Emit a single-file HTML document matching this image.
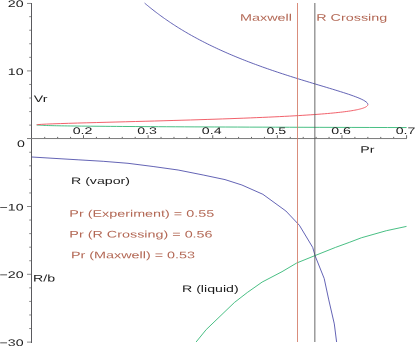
<!DOCTYPE html>
<html><head><meta charset="utf-8"><style>
html,body{margin:0;padding:0;background:#fff;}
svg{display:block;}
text{font-family:"Liberation Sans",sans-serif;font-size:8.7px;}
.t{opacity:0.999;text-rendering:geometricPrecision;}
</style></head><body>
<svg width="415" height="346" viewBox="0 0 415 346">
<rect width="415" height="346" fill="#fff"/>
<g stroke="#666" stroke-width="1" fill="none">
<line x1="31.5" x2="31.5" y1="3" y2="343" stroke="#5a5a5e"/>
<line x1="27" x2="407" y1="138.55" y2="138.55" stroke="#7a7a7a"/>
<line x1="27" x2="31" y1="342.10" y2="342.10" stroke="#8a8a8a"/>
<line x1="29.2" x2="31" y1="328.54" y2="328.54" stroke="#8a8a8a"/>
<line x1="29.2" x2="31" y1="314.98" y2="314.98" stroke="#8a8a8a"/>
<line x1="29.2" x2="31" y1="301.42" y2="301.42" stroke="#8a8a8a"/>
<line x1="29.2" x2="31" y1="287.86" y2="287.86" stroke="#8a8a8a"/>
<line x1="27" x2="31" y1="274.30" y2="274.30" stroke="#8a8a8a"/>
<line x1="29.2" x2="31" y1="260.74" y2="260.74" stroke="#8a8a8a"/>
<line x1="29.2" x2="31" y1="247.18" y2="247.18" stroke="#8a8a8a"/>
<line x1="29.2" x2="31" y1="233.62" y2="233.62" stroke="#8a8a8a"/>
<line x1="29.2" x2="31" y1="220.06" y2="220.06" stroke="#8a8a8a"/>
<line x1="27" x2="31" y1="206.50" y2="206.50" stroke="#8a8a8a"/>
<line x1="29.2" x2="31" y1="192.94" y2="192.94" stroke="#8a8a8a"/>
<line x1="29.2" x2="31" y1="179.38" y2="179.38" stroke="#8a8a8a"/>
<line x1="29.2" x2="31" y1="165.82" y2="165.82" stroke="#8a8a8a"/>
<line x1="29.2" x2="31" y1="152.26" y2="152.26" stroke="#8a8a8a"/>
<line x1="29.2" x2="31" y1="125.14" y2="125.14" stroke="#8a8a8a"/>
<line x1="29.2" x2="31" y1="111.58" y2="111.58" stroke="#8a8a8a"/>
<line x1="29.2" x2="31" y1="98.02" y2="98.02" stroke="#8a8a8a"/>
<line x1="29.2" x2="31" y1="84.46" y2="84.46" stroke="#8a8a8a"/>
<line x1="27" x2="31" y1="70.90" y2="70.90" stroke="#8a8a8a"/>
<line x1="29.2" x2="31" y1="57.34" y2="57.34" stroke="#8a8a8a"/>
<line x1="29.2" x2="31" y1="43.78" y2="43.78" stroke="#8a8a8a"/>
<line x1="29.2" x2="31" y1="30.22" y2="30.22" stroke="#8a8a8a"/>
<line x1="29.2" x2="31" y1="16.66" y2="16.66" stroke="#8a8a8a"/>
<line x1="27" x2="31" y1="3.45" y2="3.45" stroke="#8a8a8a"/>
<line x1="44.73" x2="44.73" y1="136.9" y2="138"/>
<line x1="57.65" x2="57.65" y1="136.9" y2="138"/>
<line x1="70.58" x2="70.58" y1="136.9" y2="138"/>
<line x1="83.50" x2="83.50" y1="135.2" y2="138"/>
<line x1="96.42" x2="96.42" y1="136.9" y2="138"/>
<line x1="109.35" x2="109.35" y1="136.9" y2="138"/>
<line x1="122.27" x2="122.27" y1="136.9" y2="138"/>
<line x1="135.20" x2="135.20" y1="136.9" y2="138"/>
<line x1="148.12" x2="148.12" y1="135.2" y2="138"/>
<line x1="161.04" x2="161.04" y1="136.9" y2="138"/>
<line x1="173.97" x2="173.97" y1="136.9" y2="138"/>
<line x1="186.89" x2="186.89" y1="136.9" y2="138"/>
<line x1="199.82" x2="199.82" y1="136.9" y2="138"/>
<line x1="212.74" x2="212.74" y1="135.2" y2="138"/>
<line x1="225.66" x2="225.66" y1="136.9" y2="138"/>
<line x1="238.59" x2="238.59" y1="136.9" y2="138"/>
<line x1="251.51" x2="251.51" y1="136.9" y2="138"/>
<line x1="264.44" x2="264.44" y1="136.9" y2="138"/>
<line x1="277.36" x2="277.36" y1="135.2" y2="138"/>
<line x1="290.28" x2="290.28" y1="136.9" y2="138"/>
<line x1="303.21" x2="303.21" y1="136.9" y2="138"/>
<line x1="316.13" x2="316.13" y1="136.9" y2="138"/>
<line x1="329.06" x2="329.06" y1="136.9" y2="138"/>
<line x1="341.98" x2="341.98" y1="135.2" y2="138"/>
<line x1="354.90" x2="354.90" y1="136.9" y2="138"/>
<line x1="367.83" x2="367.83" y1="136.9" y2="138"/>
<line x1="380.75" x2="380.75" y1="136.9" y2="138"/>
<line x1="393.68" x2="393.68" y1="136.9" y2="138"/>
<line x1="406.60" x2="406.60" y1="135.2" y2="138"/>
</g>
<g fill="none" stroke-width="0.85" stroke-linejoin="round">
<path d="M406.60 127.56 L387.52 127.52 L369.28 127.47 L351.84 127.43 L335.16 127.38 L319.21 127.34 L303.97 127.29 L289.40 127.24 L275.48 127.20 L262.18 127.15 L249.48 127.11 L237.35 127.06 L225.77 127.02 L214.72 126.97 L204.17 126.92 L194.11 126.88 L184.52 126.83 L175.38 126.79 L166.67 126.74 L158.38 126.70 L150.48 126.65 L142.97 126.60 L135.82 126.56 L129.04 126.51 L122.59 126.47 L116.46 126.42 L110.66 126.38 L105.15 126.33 L99.94 126.28 L95.01 126.24 L90.35 126.19 L85.95 126.15 L81.79 126.10 L77.88 126.06 L74.20 126.01 L70.74 125.96 L67.50 125.92 L64.46 125.87 L61.61 125.83 L58.96 125.78 L56.50 125.74 L54.21 125.69 L52.09 125.65 L50.13 125.60 L48.33 125.55 L46.68 125.51 L45.18 125.46 L43.82 125.42 L42.59 125.37 L41.49 125.33 L40.52 125.28 L39.66 125.23 L38.93 125.19 L38.30 125.14 L37.78 125.10 L37.36 125.05 L37.05 125.01 L36.82 124.96 L36.69 124.91 L36.65 124.87" stroke="#28b46e"/>
<path d="M36.65 124.87 L37.89 124.61 L41.30 124.35 L46.41 124.09 L52.86 123.84 L60.35 123.58 L68.63 123.32 L77.49 123.06 L86.78 122.80 L96.35 122.55 L106.09 122.29 L115.91 122.03 L125.73 121.77 L135.49 121.51 L145.14 121.26 L154.64 121.00 L163.95 120.74 L173.07 120.48 L181.95 120.22 L190.60 119.97 L198.99 119.71 L207.13 119.45 L215.00 119.19 L222.61 118.93 L229.95 118.68 L237.03 118.42 L243.84 118.16 L250.40 117.90 L256.69 117.64 L262.74 117.39 L268.55 117.13 L274.11 116.87 L279.44 116.61 L284.55 116.35 L289.43 116.10 L294.10 115.84 L298.56 115.58 L302.82 115.32 L306.89 115.06 L310.77 114.81 L314.46 114.55 L317.98 114.29 L321.33 114.03 L324.51 113.77 L327.54 113.52 L330.42 113.26 L333.14 113.00 L335.73 112.74 L338.18 112.48 L340.49 112.23 L342.68 111.97 L344.75 111.71 L346.70 111.45 L348.54 111.19 L350.27 110.94 L351.89 110.68 L353.42 110.42 L354.84 110.16 L356.18 109.90 L357.42 109.65 L358.58 109.39 L359.65 109.13 L360.64 108.87 L361.56 108.61 L362.40 108.36 L363.17 108.10 L363.88 107.84 L364.51 107.58 L365.09 107.32 L365.60 107.07 L366.05 106.81 L366.45 106.55 L366.80 106.29 L367.09 106.03 L367.33 105.78 L367.53 105.52 L367.67 105.26 L367.78 105.00 L367.84 104.74 L367.86 104.49" stroke="#ee4450"/>
<path d="M367.86 104.49 L367.65 103.63 L367.07 102.78 L366.16 101.93 L364.95 101.08 L363.50 100.23 L361.82 99.37 L359.96 98.52 L357.93 97.67 L355.75 96.82 L353.45 95.97 L351.05 95.11 L348.55 94.26 L345.98 93.41 L343.35 92.56 L340.66 91.71 L337.92 90.85 L335.16 90.00 L332.36 89.15 L329.55 88.30 L326.72 87.45 L323.88 86.59 L321.04 85.74 L318.20 84.89 L315.36 84.04 L312.53 83.19 L309.71 82.33 L306.91 81.48 L304.12 80.63 L301.34 79.78 L298.59 78.93 L295.85 78.07 L293.14 77.22 L290.45 76.37 L287.78 75.52 L285.14 74.67 L282.52 73.81 L279.93 72.96 L277.37 72.11 L274.83 71.26 L272.32 70.41 L269.84 69.55 L267.38 68.70 L264.95 67.85 L262.55 67.00 L260.18 66.15 L257.84 65.29 L255.52 64.44 L253.23 63.59 L250.97 62.74 L248.74 61.89 L246.53 61.03 L244.35 60.18 L242.20 59.33 L240.07 58.48 L237.97 57.63 L235.89 56.77 L233.84 55.92 L231.82 55.07 L229.82 54.22 L227.84 53.37 L225.89 52.51 L223.97 51.66 L222.06 50.81 L220.19 49.96 L218.33 49.11 L216.50 48.25 L214.69 47.40 L212.90 46.55 L211.13 45.70 L209.39 44.85 L207.66 44.00 L205.96 43.14 L204.28 42.29 L202.62 41.44 L200.98 40.59 L199.35 39.74 L197.75 38.88 L196.17 38.03 L194.60 37.18 L193.06 36.33 L191.53 35.48 L190.02 34.62 L188.53 33.77 L187.06 32.92 L185.60 32.07 L184.16 31.22 L182.73 30.36 L181.33 29.51 L179.94 28.66 L178.56 27.81 L177.20 26.96 L175.86 26.10 L174.53 25.25 L173.22 24.40 L171.92 23.55 L170.63 22.70 L169.36 21.84 L168.11 20.99 L166.86 20.14 L165.64 19.29 L164.42 18.44 L163.22 17.58 L162.03 16.73 L160.85 15.88 L159.69 15.03 L158.54 14.18 L157.40 13.32 L156.28 12.47 L155.16 11.62 L154.06 10.77 L152.97 9.92 L151.89 9.06 L150.82 8.21 L149.76 7.36 L148.71 6.51 L147.68 5.66 L146.65 4.80 L145.64 3.95 L144.63 3.10" stroke="#4848a8"/>
<path d="M31.8 157.0 L53.0 158.3 L78.1 159.8 L103.2 161.3 L128.0 163.3 L153.1 166.5 L178.1 170.0 L203.2 175.0 L225.0 179.6 L241.9 185.0 L262.9 194.3 L285.9 211.0 L299.4 225.3 L312.7 247.4 L315.2 256.0 L324.2 278.5 L328.6 299.1 L334.3 323.9 L336.6 342.0" stroke="#4848a8"/>
<path d="M196.1 342.0 L206.2 329.6 L234.4 302.5 L247.3 292.5 L262.1 282.1 L282.0 271.7 L296.7 263.0 L315.2 255.5 L335.5 247.4 L349.8 242.2 L361.3 237.8 L386.4 230.7 L406.5 226.4" stroke="#28b46e"/>
<line x1="297.5" x2="297.5" y1="3" y2="342" stroke="#d27864"/>
<line x1="314.85" x2="314.85" y1="3" y2="342" stroke="#4e4e4e"/>
</g>
<g class="t">
<text transform="translate(23.6 6.9) rotate(0.03) scale(1.490 1)" fill="#1c1c1c" text-anchor="end" style="font-size:9.5px">20</text>
<text transform="translate(23.6 74.9) rotate(0.03) scale(1.490 1)" fill="#1c1c1c" text-anchor="end" style="font-size:9.5px">10</text>
<text transform="translate(25.0 147.0) rotate(0.03) scale(1.490 1)" fill="#1c1c1c" text-anchor="end" style="font-size:9.5px">0</text>
<text transform="translate(23.6 210.5) rotate(0.03) scale(1.490 1)" fill="#1c1c1c" text-anchor="end" style="font-size:9.5px">−10</text>
<text transform="translate(23.6 278.1) rotate(0.03) scale(1.490 1)" fill="#1c1c1c" text-anchor="end" style="font-size:9.5px">−20</text>
<text transform="translate(23.6 346.1) rotate(0.03) scale(1.490 1)" fill="#1c1c1c" text-anchor="end" style="font-size:9.5px">−30</text>
<text transform="translate(82.5 134.0) rotate(0.03) scale(1.490 1)" fill="#1c1c1c" text-anchor="middle" style="font-size:9.5px">0.2</text>
<text transform="translate(147.1 134.0) rotate(0.03) scale(1.490 1)" fill="#1c1c1c" text-anchor="middle" style="font-size:9.5px">0.3</text>
<text transform="translate(211.7 134.0) rotate(0.03) scale(1.490 1)" fill="#1c1c1c" text-anchor="middle" style="font-size:9.5px">0.4</text>
<text transform="translate(276.4 134.0) rotate(0.03) scale(1.490 1)" fill="#1c1c1c" text-anchor="middle" style="font-size:9.5px">0.5</text>
<text transform="translate(341.0 134.0) rotate(0.03) scale(1.490 1)" fill="#1c1c1c" text-anchor="middle" style="font-size:9.5px">0.6</text>
<text transform="translate(405.6 134.0) rotate(0.03) scale(1.490 1)" fill="#1c1c1c" text-anchor="middle" style="font-size:9.5px">0.7</text>
<text transform="translate(33.8 102.0) rotate(0.03) scale(1.490 1)" fill="#1c1c1c" text-anchor="start" style="font-size:9.5px">Vr</text>
<text transform="translate(33.0 281.4) rotate(0.03) scale(1.490 1)" fill="#1c1c1c" text-anchor="start" style="font-size:9.5px">R/b</text>
<text transform="translate(360.3 152.8) rotate(0.03) scale(1.490 1)" fill="#1c1c1c" text-anchor="start" style="font-size:9.5px">Pr</text>
<text transform="translate(71.0 183.9) rotate(0.03) scale(1.490 1)" fill="#1c1c1c" text-anchor="start" style="font-size:9.5px">R (vapor)</text>
<text transform="translate(182.0 291.9) rotate(0.03) scale(1.490 1)" fill="#1c1c1c" text-anchor="start" style="font-size:9.5px">R (liquid)</text>
<text transform="translate(240.0 20.7) rotate(0.03) scale(1.512 1)" fill="#b36855" text-anchor="start" style="font-size:9.5px">Maxwell</text>
<text transform="translate(316.2 20.7) rotate(0.03) scale(1.512 1)" fill="#b36855" text-anchor="start" style="font-size:9.5px">R Crossing</text>
<text transform="translate(69.3 216.7) rotate(0.03) scale(1.512 1)" fill="#b36855" text-anchor="start" style="font-size:9.5px">Pr (Experiment) = 0.55</text>
<text transform="translate(69.3 237.5) rotate(0.03) scale(1.512 1)" fill="#b36855" text-anchor="start" style="font-size:9.5px">Pr (R Crossing) = 0.56</text>
<text transform="translate(70.9 258.2) rotate(0.03) scale(1.512 1)" fill="#b36855" text-anchor="start" style="font-size:9.5px">Pr (Maxwell) = 0.53</text>
</g>
</svg></body></html>
